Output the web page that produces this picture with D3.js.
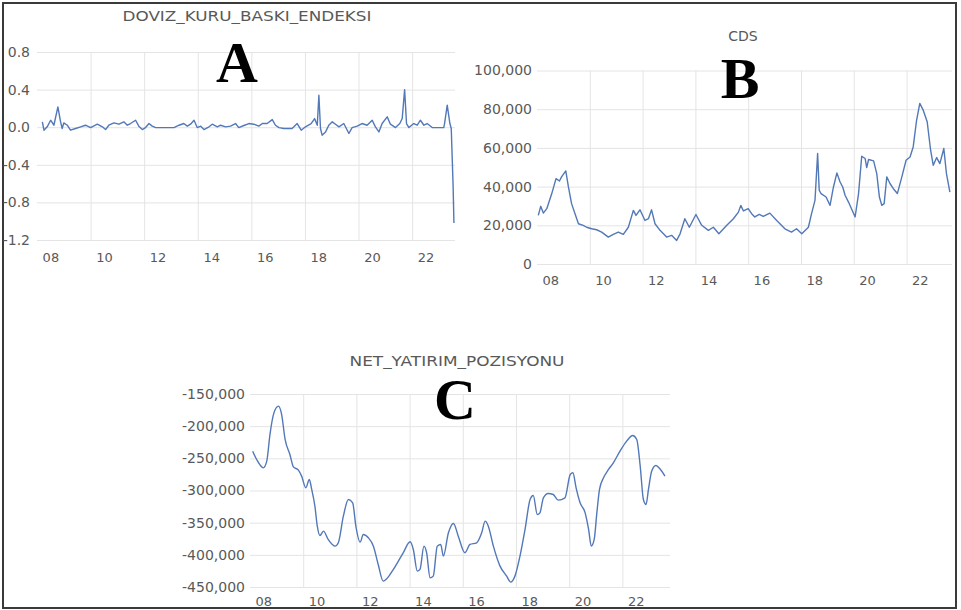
<!DOCTYPE html>
<html><head><meta charset="utf-8">
<script src="https://cdn.jsdelivr.net/npm/d3@7"></script>
<style>html,body{margin:0;padding:0;background:#fff;} svg{display:block;}</style>
</head><body>
<svg id="chart" width="961" height="610"></svg>
<script>
// ---------- data ----------
const xYears = [2010, 2012, 2014, 2016, 2018, 2020, 2022];
const xLabelYears = [2008, 2010, 2012, 2014, 2016, 2018, 2020, 2022];
const xTickLabels = ["08", "10", "12", "14", "16", "18", "20", "22"];

const aTitle = "DOVIZ_KURU_BASKI_ENDEKSI";
const aYTicks = [0.8, 0.4, 0.0, -0.4, -0.8, -1.2];
const aDates = [2008.20,2008.26,2008.38,2008.51,2008.63,2008.78,2008.88,2008.94,2009.00,2009.13,2009.25,2009.44,2009.63,2009.81,2010.00,2010.25,2010.44,2010.56,2010.68,2010.87,2011.06,2011.24,2011.37,2011.49,2011.68,2011.80,2011.93,2012.05,2012.18,2012.30,2012.43,2013.11,2013.30,2013.48,2013.61,2013.73,2013.86,2013.98,2014.11,2014.23,2014.42,2014.54,2014.73,2014.85,2015.04,2015.22,2015.41,2015.53,2015.72,2015.91,2016.09,2016.28,2016.41,2016.59,2016.78,2016.90,2017.03,2017.21,2017.52,2017.71,2017.86,2018.02,2018.23,2018.36,2018.46,2018.52,2018.58,2018.64,2018.77,2018.89,2019.02,2019.14,2019.27,2019.45,2019.64,2019.76,2019.95,2020.13,2020.32,2020.51,2020.63,2020.76,2020.88,2021.07,2021.19,2021.38,2021.54,2021.63,2021.72,2021.79,2021.88,2022.06,2022.19,2022.31,2022.44,2022.56,2022.75,2023.18,2023.21,2023.31,2023.41,2023.46,2023.53,2023.56];
const aValues = [0.057,-0.032,0.004,0.074,0.021,0.216,0.057,-0.014,0.046,0.021,-0.032,-0.014,0.004,0.021,-0.004,0.032,0.004,-0.025,0.021,0.046,0.032,0.057,0.021,0.039,0.074,0.011,-0.025,-0.004,0.039,0.011,-0.004,-0.004,0.021,0.039,0.011,0.032,0.074,-0.004,0.011,-0.025,0.004,0.032,0.004,0.021,0.004,0.011,0.039,-0.004,0.018,0.039,0.032,0.011,0.039,0.039,0.081,0.021,-0.004,-0.014,-0.014,0.039,-0.032,0.004,0.039,0.092,0.021,0.34,-0.014,-0.085,-0.05,0.021,0.057,0.032,0.004,0.039,-0.067,-0.004,0.011,0.039,0.021,0.074,0.004,-0.05,0.039,0.11,0.032,-0.004,0.039,0.092,0.40,0.039,-0.004,0.039,0.021,0.074,0.021,0.039,-0.004,-0.004,0.039,0.234,0.039,-0.014,-0.63,-1.02];

const bTitle = "CDS";
const bYTicks = [0, 20000, 40000, 60000, 80000, 100000];
const bDates = [2008.05,2008.14,2008.24,2008.37,2008.56,2008.72,2008.85,2008.93,2009.09,2009.19,2009.31,2009.44,2009.57,2009.75,2009.88,2010.07,2010.26,2010.45,2010.70,2010.89,2011.08,2011.27,2011.46,2011.65,2011.75,2011.90,2012.09,2012.22,2012.34,2012.47,2012.66,2012.91,2013.10,2013.29,2013.42,2013.60,2013.77,2014.02,2014.24,2014.49,2014.68,2014.89,2015.19,2015.44,2015.63,2015.72,2015.82,2016.00,2016.13,2016.25,2016.42,2016.57,2016.82,2017.08,2017.39,2017.64,2017.83,2018.03,2018.28,2018.40,2018.53,2018.63,2018.69,2018.76,2018.95,2019.10,2019.23,2019.36,2019.48,2019.58,2019.67,2019.80,2020.05,2020.18,2020.30,2020.43,2020.49,2020.56,2020.75,2020.87,2020.97,2021.06,2021.15,2021.25,2021.37,2021.50,2021.65,2021.82,2021.98,2022.13,2022.25,2022.38,2022.50,2022.63,2022.78,2022.91,2023.01,2023.14,2023.26,2023.41,2023.51,2023.64];
const bValues = [25100,29800,26300,28600,36400,44100,42900,45000,48100,39800,31200,26000,20800,20000,19000,18200,17700,16500,13900,15300,16500,15300,19000,27700,25100,28000,22500,23400,28000,20800,17400,13900,14800,12200,15600,23400,19000,25600,20000,17400,19000,15600,20000,23400,26800,30300,27400,28600,26000,24300,25600,24600,26300,22500,18200,16500,18200,15600,19000,26000,32900,57100,38100,36400,34600,30300,39800,47100,42400,39800,35500,32000,24300,36400,55700,54500,49800,54000,53300,46700,34600,30300,31200,45000,41600,38900,36400,45000,53600,55300,60500,74400,83000,79500,73500,58800,51000,55000,51900,59700,46700,37200];

const cTitle = "NET_YATIRIM_POZISYONU";
const cYTicks = [-450000, -400000, -350000, -300000, -250000, -200000, -150000];
const cDates = [2008.10,2008.25,2008.50,2008.63,2008.75,2008.90,2009.07,2009.19,2009.32,2009.50,2009.63,2009.82,2009.94,2010.10,2010.23,2010.32,2010.44,2010.53,2010.63,2010.76,2010.94,2011.20,2011.32,2011.51,2011.70,2011.86,2011.98,2012.14,2012.26,2012.45,2012.64,2012.82,2013.01,2013.14,2013.39,2013.76,2014.02,2014.14,2014.29,2014.39,2014.54,2014.64,2014.77,2014.89,2015.04,2015.17,2015.27,2015.46,2015.65,2015.83,2016.08,2016.27,2016.52,2016.71,2016.84,2016.96,2017.15,2017.40,2017.65,2017.80,2017.96,2018.15,2018.34,2018.53,2018.65,2018.80,2018.90,2019.03,2019.21,2019.40,2019.59,2019.84,2020.04,2020.14,2020.26,2020.41,2020.60,2020.73,2020.83,2020.94,2021.04,2021.14,2021.29,2021.48,2021.66,2021.91,2022.16,2022.39,2022.54,2022.67,2022.79,2022.89,2022.98,2023.10,2023.26,2023.41,2023.60];
const cValues = [-238900,-251800,-264800,-254400,-213000,-179300,-168900,-181900,-220700,-244000,-263200,-268400,-277700,-295800,-282900,-298400,-324300,-355400,-369900,-363200,-376100,-386500,-381300,-339900,-314000,-319100,-355400,-380300,-368400,-373500,-386500,-415000,-440900,-437200,-422700,-396800,-379700,-391700,-425300,-422700,-386500,-396800,-435700,-433100,-386500,-383900,-402000,-365800,-351300,-371000,-396800,-383900,-381300,-365800,-347600,-355400,-386500,-417600,-433100,-442400,-433100,-402000,-360600,-314000,-307700,-337300,-334700,-311400,-304600,-306200,-315000,-311400,-275100,-272500,-295800,-319100,-334700,-360600,-386500,-376100,-334700,-298400,-280300,-267300,-257000,-238900,-223300,-214500,-220700,-262200,-314000,-321700,-298400,-270000,-261100,-266300,-277700];

// ---------- drawing ----------
const svg = d3.select("#chart");
const TEXT = "#595959", GRID = "#e4e4e4", LINE = "#5278b8";
const loc = d3.formatLocale({decimal: ".", thousands: ",", grouping: [3], currency: ["", ""], minus: "-"});
const fmtComma = loc.format(",");
const fmt1 = loc.format(".1f");

svg.append("rect").attr("x", 3).attr("y", 3).attr("width", 953).attr("height", 605)
  .attr("fill", "#fff").attr("stroke", "#3a3a3a").attr("stroke-width", 2);

const panels = [
  {title: aTitle, letter: "A", dates: aDates, values: aValues, yTicks: aYTicks, fmt: fmt1,
   xr: [37, 455], xEnd: 2023.6, yd: [-1.2, 0.8], yr: [240, 52], yPad: 7, xPad: 13,
   titleX: 247, titleY: 21, titleLen: 249, letterX: 237, letterY: 82, curve: d3.curveLinear},
  {title: bTitle, letter: "B", dates: bDates, values: bValues, yTicks: bYTicks, fmt: fmtComma,
   xr: [537, 952], xEnd: 2023.72, yd: [0, 100000], yr: [264, 70.5], yPad: 5, xPad: 12,
   titleX: 743, titleY: 41, titleLen: null, letterX: 740, letterY: 98, curve: d3.curveLinear},
  {title: cTitle, letter: "C", dates: cDates, values: cValues, yTicks: cYTicks, fmt: fmtComma,
   xr: [250, 670], xEnd: 2023.79, yd: [-450000, -150000], yr: [587, 394], yPad: 5, xPad: 10,
   titleX: 457, titleY: 366, titleLen: 215, letterX: 455, letterY: 419, curve: d3.curveMonotoneX}
];

panels.forEach(p => {
  const g = svg.append("g");
  const x = d3.scaleLinear().domain([2008, p.xEnd]).range(p.xr);
  const y = d3.scaleLinear().domain(p.yd).range(p.yr);
  const halfYear = x(2008.5) - x(2008);

  // horizontal gridlines + y labels
  const yAxis = g.append("g").attr("transform", `translate(${p.xr[0]},0)`)
    .call(d3.axisLeft(y).tickValues(p.yTicks).tickFormat(p.fmt)
      .tickSize(-(p.xr[1] - p.xr[0])).tickPadding(p.yPad));
  yAxis.select(".domain").remove();
  yAxis.selectAll(".tick line").attr("stroke", GRID).attr("stroke-width", 1);
  yAxis.selectAll(".tick text").attr("fill", TEXT)
    .style("font-family", "DejaVu Sans").style("font-size", "14px");

  // vertical gridlines
  const xGrid = g.append("g").attr("transform", `translate(0,${p.yr[0]})`)
    .call(d3.axisBottom(x).tickValues(xYears).tickFormat("")
      .tickSize(-(p.yr[0] - p.yr[1])));
  xGrid.select(".domain").remove();
  xGrid.selectAll(".tick line").attr("stroke", GRID).attr("stroke-width", 1);

  // x labels (centred on each labelled year)
  const xAxis = g.append("g").attr("transform", `translate(0,${p.yr[0]})`)
    .call(d3.axisBottom(x).tickValues(xLabelYears)
      .tickFormat((d, i) => xTickLabels[i]).tickSize(0).tickPadding(p.xPad));
  xAxis.select(".domain").remove();
  xAxis.selectAll(".tick text").attr("fill", TEXT).attr("dx", halfYear)
    .style("font-family", "DejaVu Sans").style("font-size", "13px");

  // series line
  const pts = p.dates.map((d, i) => [d, p.values[i]]);
  g.append("path").datum(pts)
    .attr("fill", "none").attr("stroke", LINE).attr("stroke-width", 1.4)
    .attr("stroke-linejoin", "round")
    .attr("d", d3.line().x(d => x(d[0])).y(d => y(d[1])).curve(p.curve));

  // title
  const t = g.append("text").attr("x", p.titleX).attr("y", p.titleY)
    .attr("text-anchor", "middle").attr("fill", TEXT)
    .style("font-family", "DejaVu Sans").style("font-size", "14px").text(p.title);
  if (p.titleLen) t.attr("textLength", p.titleLen).attr("lengthAdjust", "spacingAndGlyphs");

  // big panel letter
  g.append("text").attr("x", p.letterX).attr("y", p.letterY)
    .attr("text-anchor", "middle").attr("fill", "#000")
    .style("font-family", "Liberation Serif").style("font-weight", "bold")
    .style("font-size", "58px").text(p.letter);
});
</script>
</body></html>
